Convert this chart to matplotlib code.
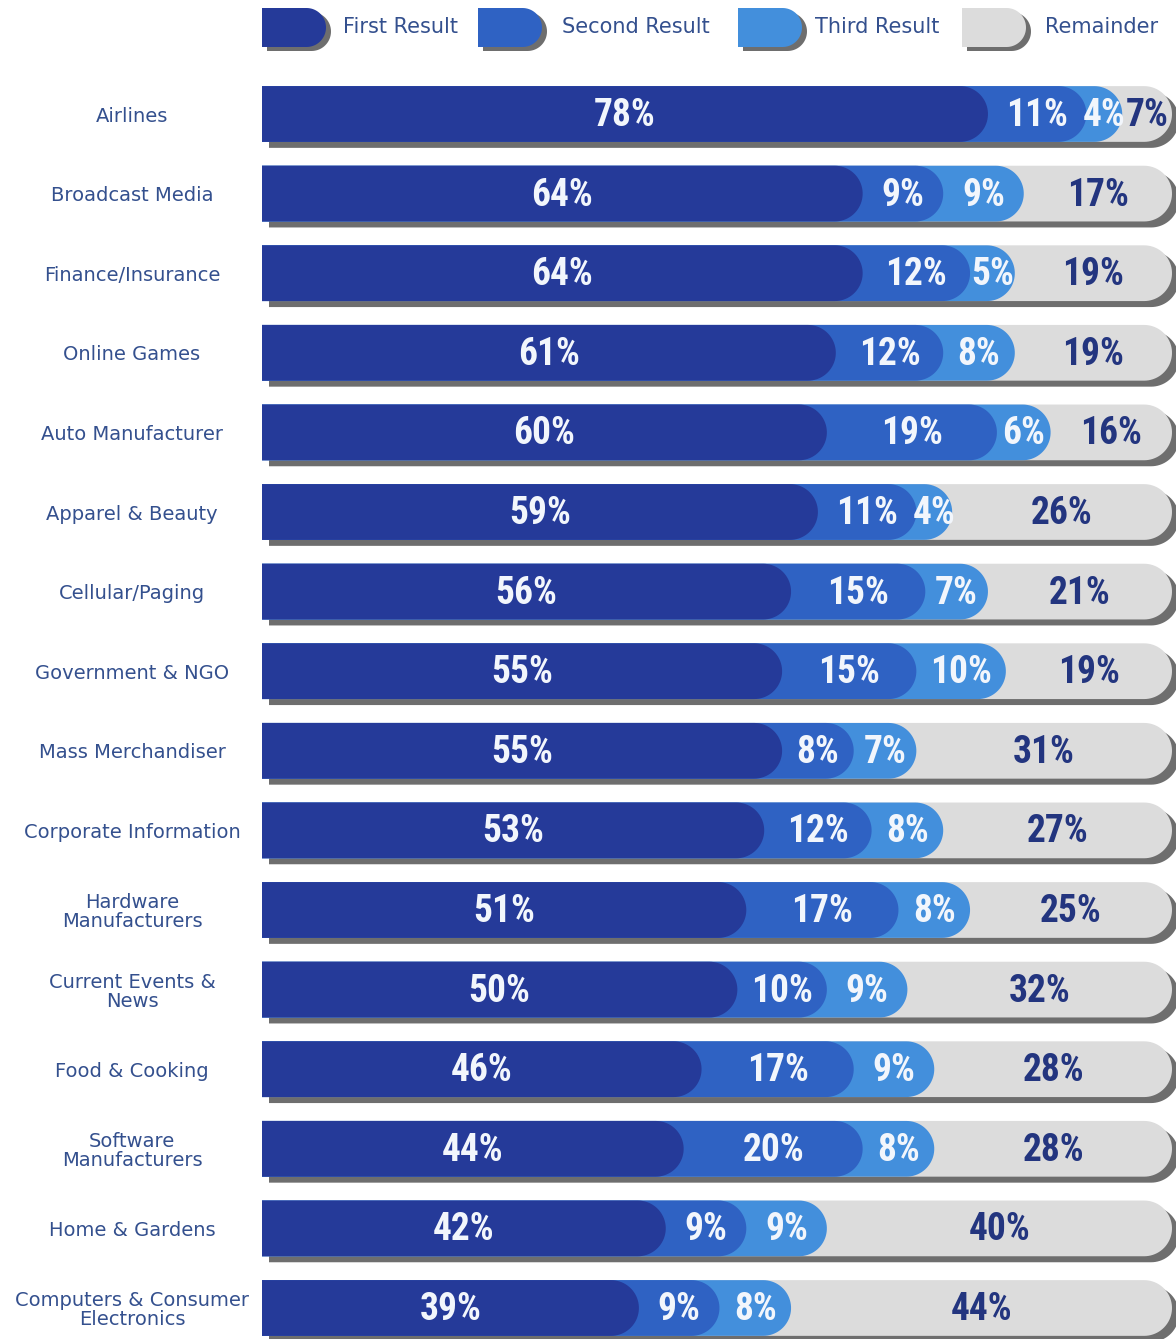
import numpy as np
import matplotlib
matplotlib.use('Agg')
import matplotlib.pyplot as plt
from matplotlib.path import Path
from matplotlib.patches import PathPatch
from matplotlib.transforms import offset_copy
from matplotlib import font_manager

categories = ['Airlines', 'Broadcast Media', 'Finance/Insurance', 'Online Games',
              'Auto Manufacturer', 'Apparel & Beauty', 'Cellular/Paging',
              'Government & NGO', 'Mass Merchandiser', 'Corporate Information',
              'Hardware\nManufacturers', 'Current Events &\nNews', 'Food & Cooking',
              'Software\nManufacturers', 'Home & Gardens',
              'Computers & Consumer\nElectronics']
first = [78, 64, 64, 61, 60, 59, 56, 55, 55, 53, 51, 50, 46, 44, 42, 39]
second = [11, 9, 12, 12, 19, 11, 15, 15, 8, 12, 17, 10, 17, 20, 9, 9]
third = [4, 9, 5, 8, 6, 4, 7, 10, 7, 8, 8, 9, 9, 8, 9, 8]
remainder = [7, 17, 19, 19, 16, 26, 21, 19, 31, 27, 25, 32, 28, 28, 40, 44]
series_names = ['First Result', 'Second Result', 'Third Result', 'Remainder']

colors = ['#253a99', '#2f62c3', '#438fdc', '#dcdcdc']
shadow_col = '#6e6e6e'
label_col = '#34508e'
W, H = 1176, 1339
DPI = 100

# narrowest installed face for the percentages
installed = {f.name for f in font_manager.fontManager.ttflist}
pct_family = [f for f in ['Roboto Condensed', 'Liberation Sans Narrow', 'DejaVu Sans Condensed',
                          'Liberation Sans'] if f in installed][:1] + ['DejaVu Sans']

fig = plt.figure(figsize=(W / DPI, H / DPI), dpi=DPI)
fig.patch.set_facecolor('white')

# bar axes: 0..100 -> pixels 262..1157, rows every 79.6 px starting at 114
x_left, x_right = 262, 1157
row_px, row0 = 79.6, 114
top_px = row0 - row_px / 2
ax = fig.add_axes([x_left / W, 0, (x_right - x_left) / W, (H - top_px) / H])
ax.set_xlim(0, 100)
ax.set_ylim(-0.5 + (H - top_px) / row_px, -0.5)
for s in ax.spines.values():
    s.set_visible(False)
ax.set_xticks([])

px_x = (x_right - x_left) / 100.0
bar_h = 0.70
r_px = bar_h / 2 * row_px
rx = r_px / px_x
bg_end = (1172 - x_left) / px_x   # grey track runs to the right edge


def pill_path(x0, x1, yc, hw, hh):
    # flat left end, rounded right end reaching x1 (hw/hh = cap radii)
    t = np.linspace(-np.pi / 2, np.pi / 2, 40)
    xc = x1 - hw
    arc = np.column_stack([xc + hw * np.cos(t), yc + hh * np.sin(t)])
    verts = np.vstack([[x0, yc - hh], arc, [x0, yc + hh], [x0, yc - hh]])
    codes = [Path.MOVETO] + [Path.LINETO] * (len(verts) - 2) + [Path.CLOSEPOLY]
    return Path(verts, codes)


def pill(x0, x1, yc, **kw):
    return PathPatch(pill_path(x0, x1, yc, rx, bar_h / 2), lw=0, **kw)


shadow_tr = offset_copy(ax.transData, fig=fig, x=7, y=-6, units='dots')
pct_font = dict(family=pct_family, fontstretch='condensed',
                weight='bold', fontsize=27, va='center', ha='center')

for i in range(len(categories)):
    vals = [first[i], second[i], third[i], remainder[i]]
    cum = np.cumsum(vals[:3])
    # shadow + grey background pill
    ax.add_patch(pill(0, bg_end, i, facecolor=shadow_col, transform=shadow_tr, clip_on=False, zorder=1))
    ax.add_patch(pill(0, bg_end, i, facecolor=colors[3], clip_on=False, zorder=2))
    # coloured pills, cap beyond the value
    for k in (2, 1, 0):
        ax.add_patch(pill(0, cum[k] + rx, i, facecolor=colors[k], clip_on=False, zorder=3 + (2 - k)))
    # labels centred in visible part of each segment
    left = 0
    for k in range(4):
        right = cum[k] + rx if k < 3 else bg_end
        tc = '#f2f6fc' if k < 3 else '#23357f'
        ax.text((left + right) / 2, i + 0.02, '%d%%' % vals[k], color=tc, zorder=10, **pct_font)
        left = right

ax.set_yticks(range(len(categories)))
ax.set_yticklabels(categories, ha='center', multialignment='center',
                   fontsize=14, color=label_col, family='DejaVu Sans', linespacing=1.0)
ax.tick_params(axis='y', length=0, pad=(x_left - 132) * 72 / DPI)

# legend strip at top in pixel coordinates
lax = fig.add_axes([0, 1 - 60 / H, 1, 60 / H])
lax.set_xlim(0, W)
lax.set_ylim(60, 0)
lax.axis('off')
sw_x = [262, 478, 738, 962]
tx_x = [343, 562, 815, 1045]
for k in range(4):
    for dx, dy, c in ((5, 4, shadow_col), (0, 0, colors[k])):
        lax.add_patch(PathPatch(pill_path(sw_x[k] + dx, sw_x[k] + 64 + dx, 27.5 + dy, 19.5, 19.5),
                                facecolor=c, lw=0))
    lax.text(tx_x[k], 27, series_names[k], fontsize=15, color=label_col,
             family='DejaVu Sans', va='center', ha='left')

fig.savefig('out.png', dpi=DPI)
